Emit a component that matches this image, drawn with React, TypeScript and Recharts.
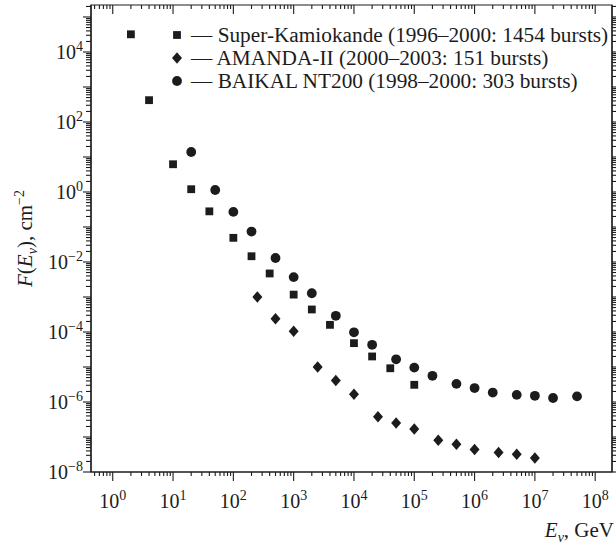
import React from "react";
import { ScatterChart, Scatter, XAxis, YAxis, Legend, ReferenceArea, ReferenceLine } from "recharts";

// Super-Kamiokande (squares)
const SK_E = [2, 4, 10, 20, 40, 100, 200, 400, 1000, 2000, 4000, 1e4, 2e4, 4e4, 1e5];
const SK_F = [3.2e4, 420, 6.2, 1.2, 0.28, 0.049, 0.0146, 0.0047, 0.00117, 4.4e-4, 1.6e-4, 4.8e-5, 2.0e-5, 9.2e-6, 3.1e-6];

// AMANDA-II (diamonds)
const AM_E = [250, 500, 1000, 2500, 5000, 1e4, 2.5e4, 5e4, 1e5, 2.5e5, 5e5, 1e6, 2.5e6, 5e6, 1e7];
const AM_F = [1.0e-3, 2.4e-4, 1.05e-4, 1.0e-5, 4.1e-6, 1.66e-6, 3.8e-7, 2.5e-7, 1.7e-7, 8.1e-8, 6.2e-8, 4.4e-8, 3.6e-8, 3.2e-8, 2.5e-8];

// BAIKAL NT200 (circles)
const BK_E = [20, 50, 100, 200, 500, 1000, 2000, 5000, 1e4, 2e4, 5e4, 1e5, 2e5, 5e5, 1e6, 2e6, 5e6, 1e7, 2e7, 5e7];
const BK_F = [13.9, 1.14, 0.27, 0.074, 0.013, 0.0037, 1.28e-3, 2.9e-4, 9.8e-5, 4.3e-5, 1.66e-5, 9.6e-6, 5.6e-6, 3.3e-6, 2.5e-6, 1.86e-6, 1.6e-6, 1.5e-6, 1.3e-6, 1.45e-6];

const SERIES_NAMES = [
  "Super-Kamiokande (1996–2000: 1454 bursts)",
  "AMANDA-II (2000–2003: 151 bursts)",
  "BAIKAL NT200 (1998–2000: 303 bursts)",
];

const X_DOMAIN = [0.436, 1.9e8];
const Y_DOMAIN = [1e-8, 2.2e5];
const X_EXPONENTS = [0, 1, 2, 3, 4, 5, 6, 7, 8];
const Y_EXPONENTS = [-8, -7, -6, -5, -4, -3, -2, -1, 0, 1, 2, 3, 4, 5];

const INK = "#1c1c1c";
const FONT = "'Liberation Serif', 'Times New Roman', serif";

// decade ticks plus 2..9 minor ticks, kept inside the domain
const withMinors = (exps: number[], lo: number, hi: number) => {
  const out: number[] = [];
  for (let e = exps[0] - 1; e <= exps[exps.length - 1]; e++) {
    for (let m = 1; m <= 9; m++) {
      const v = m * Math.pow(10, e);
      if (v >= lo && v <= hi) out.push(v);
    }
  }
  return out;
};
const X_TICKS = withMinors(X_EXPONENTS, X_DOMAIN[0], X_DOMAIN[1]);
const Y_TICKS = withMinors(Y_EXPONENTS, Y_DOMAIN[0], Y_DOMAIN[1]);

const toPoints = (e: number[], f: number[]) => e.map((v, i) => ({ e: v, f: f[i] }));
const skData = toPoints(SK_E, SK_F);
const amData = toPoints(AM_E, AM_F);
const bkData = toPoints(BK_E, BK_F);

const expOf = (v: number) => Math.round(Math.log10(v));
const isDecade = (v: number) => Math.abs(Math.log10(v) - expOf(v)) < 1e-9;
const expText = (n: number) => (n < 0 ? `\u2212${-n}` : `${n}`);

const Pow10 = ({ exp, ...rest }: any) => (
  <text fontFamily={FONT} fontSize={20} fill={INK} {...rest}>
    10
    <tspan dy={-8} fontSize={14}>
      {expText(exp)}
    </tspan>
  </text>
);

const BottomTick = ({ x, y, payload }: any) => {
  const major = isDecade(payload.value);
  return (
    <g>
      <line x1={x} x2={x} y1={y} y2={y + (major ? 9 : 4)} stroke={INK} strokeWidth={1.1} />
      {major && <Pow10 exp={expOf(payload.value)} x={x} y={y + 36} textAnchor="middle" />}
    </g>
  );
};

const LeftTick = ({ x, y, payload }: any) => {
  const major = isDecade(payload.value);
  const exp = expOf(payload.value);
  return (
    <g>
      <line x1={x - (major ? 8 : 5)} x2={x} y1={y} y2={y} stroke={INK} strokeWidth={1.1} />
      {major && exp % 2 === 0 && <Pow10 exp={exp} x={x - 8} y={y + 7} textAnchor="end" />}
    </g>
  );
};

const RightTick = ({ x, y, payload }: any) => {
  const major = isDecade(payload.value);
  return <line x1={x} x2={x + (major ? 8 : 5)} y1={y} y2={y} stroke={INK} strokeWidth={1.1} />;
};

// short inward tick hanging from the top frame
const topTickShape = (len: number) => (props: any) => {
  const top = Math.min(props.y1, props.y2);
  return <line x1={props.x1} x2={props.x1} y1={top} y2={top + len} stroke={INK} strokeWidth={1.1} />;
};

const XLabel = ({ viewBox }: any) => {
  const { x, y, width } = viewBox;
  return (
    <text x={x + width + 2} y={y + 65} textAnchor="end" fontFamily={FONT} fontSize={21} fill={INK}>
      <tspan fontStyle="italic">E</tspan>
      <tspan dy={5} fontSize={14} fontStyle="italic">ν</tspan>
      <tspan dy={-5}>, GeV</tspan>
    </text>
  );
};

const YLabel = ({ viewBox }: any) => {
  const { x, y, height } = viewBox;
  const cx = x + 32;
  const cy = y + height / 2;
  return (
    <text
      x={cx}
      y={cy}
      textAnchor="middle"
      transform={`rotate(-90, ${cx}, ${cy})`}
      fontFamily={FONT}
      fontSize={21}
      fill={INK}
    >
      <tspan fontStyle="italic">F</tspan>
      <tspan>(</tspan>
      <tspan fontStyle="italic">E</tspan>
      <tspan dy={5} fontSize={14} fontStyle="italic">ν</tspan>
      <tspan dy={-5}>), cm</tspan>
      <tspan dy={-8} fontSize={14}>−2</tspan>
    </text>
  );
};

const Square = ({ cx, cy }: any) => <rect x={cx - 3.9} y={cy - 3.9} width={7.8} height={7.8} fill={INK} />;
const Diamond = ({ cx, cy }: any) => (
  <polygon points={`${cx},${cy - 5.7} ${cx + 5},${cy} ${cx},${cy + 5.7} ${cx - 5},${cy}`} fill={INK} />
);
const Dot = ({ cx, cy }: any) => <circle cx={cx} cy={cy} r={4.9} fill={INK} />;

const MARKERS = [Square, Diamond, Dot];

const LegendBox = () => (
  <div style={{ position: "relative", width: 446, fontFamily: FONT, fontSize: 21.3, lineHeight: "23px", color: INK }}>
    {SERIES_NAMES.map((name, i) => {
      const Marker = MARKERS[i];
      return (
        <div key={name} style={{ position: "relative", height: 23 }}>
          <svg width={14} height={14} style={{ position: "absolute", left: 0, top: 4 }}>
            <Marker cx={7} cy={7} />
          </svg>
          <span style={{ position: "absolute", left: 21, top: 0, whiteSpace: "nowrap" }}>— {name}</span>
        </div>
      );
    })}
  </div>
);

const axisLine = { stroke: INK, strokeWidth: 1.2 };

export default function App() {
  return (
    <div style={{ position: "absolute", left: 0, top: 0, width: 616, height: 546, background: "#fff" }}>
      <ScatterChart width={616} height={546} margin={{ top: 5, right: 0, bottom: 0, left: 0 }}>
        <XAxis
          dataKey="e"
          type="number"
          scale="log"
          domain={X_DOMAIN}
          allowDataOverflow
          ticks={X_TICKS}
          interval={0}
          tick={BottomTick}
          tickLine={false}
          tickSize={0}
          tickMargin={0}
          height={74}
          axisLine={axisLine}
          label={<XLabel />}
        />
        <YAxis
          dataKey="f"
          type="number"
          scale="log"
          domain={Y_DOMAIN}
          allowDataOverflow
          ticks={Y_TICKS}
          interval={0}
          tick={LeftTick}
          tickLine={false}
          tickSize={0}
          tickMargin={0}
          width={91}
          axisLine={axisLine}
          label={<YLabel />}
        />
        <YAxis
          yAxisId={1}
          orientation="right"
          dataKey="f"
          type="number"
          scale="log"
          domain={Y_DOMAIN}
          allowDataOverflow
          ticks={Y_TICKS}
          interval={0}
          tick={RightTick}
          tickLine={false}
          tickSize={0}
          tickMargin={0}
          width={4}
          axisLine={axisLine}
        />
        <ReferenceArea
          x1={X_DOMAIN[0]}
          x2={X_DOMAIN[1]}
          y1={Y_DOMAIN[0]}
          y2={Y_DOMAIN[1]}
          fill="none"
          fillOpacity={0}
          stroke={INK}
          strokeWidth={1.2}
          ifOverflow="visible"
        />
        {X_TICKS.map((v) => (
          <ReferenceLine key={v} x={v} shape={topTickShape(isDecade(v) ? 9 : 4)} ifOverflow="visible" />
        ))}
        <Legend
          layout="horizontal"
          verticalAlign="middle"
          align="center"
          wrapperStyle={{ top: 24, left: 170, width: 446 }}
          content={<LegendBox />}
        />
        <Scatter name={SERIES_NAMES[0]} data={skData} shape={Square} fill={INK} isAnimationActive={false} />
        <Scatter name={SERIES_NAMES[1]} data={amData} shape={Diamond} fill={INK} isAnimationActive={false} />
        <Scatter name={SERIES_NAMES[2]} data={bkData} shape={Dot} fill={INK} isAnimationActive={false} />
      </ScatterChart>
    </div>
  );
}
